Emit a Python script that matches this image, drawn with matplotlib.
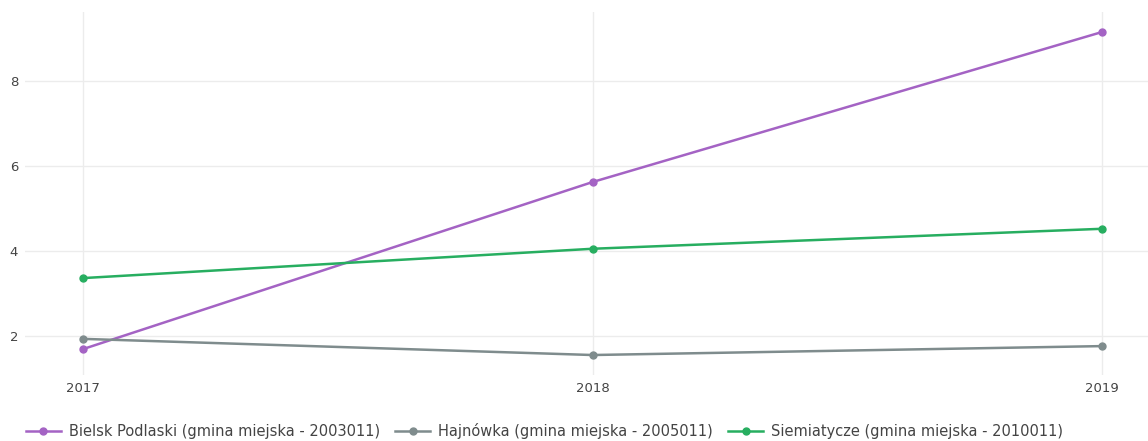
import matplotlib
matplotlib.use("Agg")
import matplotlib.pyplot as plt

# ==========================
# Data
# ==========================
years = [2017, 2018, 2019]
labels = [
    "Bielsk Podlaski (gmina miejska - 2003011)",
    "Hajnówka (gmina miejska - 2005011)",
    "Siemiatycze (gmina miejska - 2010011)",
]
bielsk = [1.69, 5.62, 9.15]
hajnowka = [1.93, 1.55, 1.76]
siemiatycze = [3.36, 4.05, 4.52]
colors = ["#a463c4", "#7f8c8d", "#27ae60"]

plt.rcParams['font.family'] = ['DejaVu Sans']

W, H = 1148, 441
fig = plt.figure(figsize=(W / 100, H / 100), dpi=100)
left, right, top, bottom = 25, 1148, 12, 375
ax = fig.add_axes([left / W, 1 - bottom / H, (right - left) / W, (bottom - top) / H])

for vals, lab, col in zip([bielsk, hajnowka, siemiatycze], labels, colors):
    ax.plot(years, vals, color=col, lw=1.8, marker='o', ms=5, label=lab)

ax.set_xlim(2016.886, 2019.09)
ax.set_ylim(1.08, 9.62)
ax.set_xticks(years)
ax.set_xticklabels([str(y) for y in years])
ax.set_yticks([2, 4, 6, 8])
ax.grid(True, color='#ececec', lw=1)
ax.set_axisbelow(True)
for s in ax.spines.values():
    s.set_visible(False)
ax.tick_params(length=0, labelsize=9.5, colors='#444444')
ax.tick_params(axis='x', pad=5)
ax.tick_params(axis='y', pad=5)

fig.legend(loc='lower left', bbox_to_anchor=(20 / W, -0.008), ncol=3, frameon=False,
           fontsize=10.5, labelcolor='#444444', handlelength=2.4, handletextpad=0.55,
           columnspacing=1.05, borderaxespad=0)

fig.savefig("out.png", dpi=100)
